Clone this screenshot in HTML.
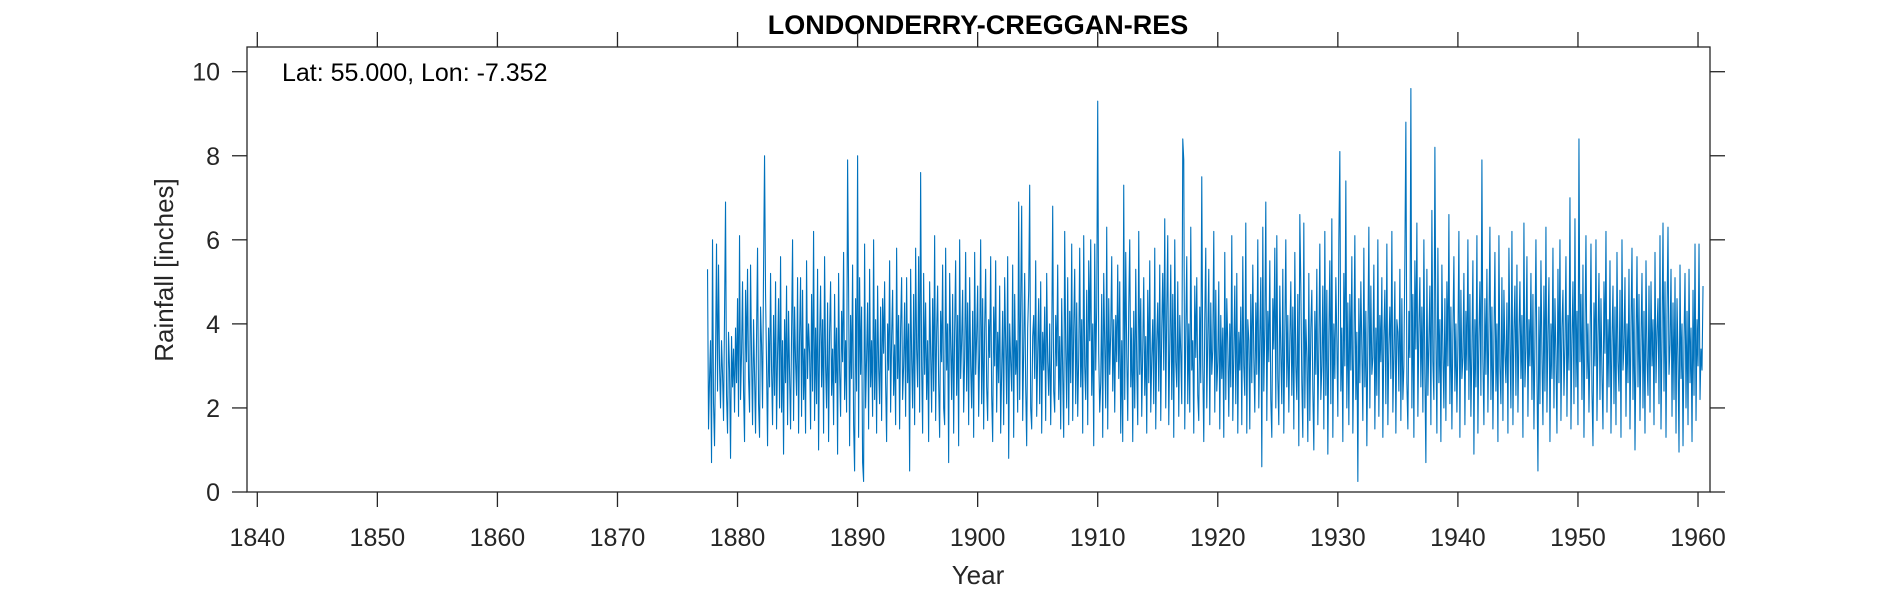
<!DOCTYPE html>
<html><head><meta charset="utf-8"><style>
body{margin:0;background:#fff;}
svg text{font-family:"Liberation Sans",Arial,sans-serif;fill:#262626;}
</style></head><body>
<svg id="chart" width="1890" height="591" viewBox="0 0 1890 591" xmlns="http://www.w3.org/2000/svg">
<text x="978" y="34" text-anchor="middle" font-size="27" font-weight="bold" style="fill:#000">LONDONDERRY-CREGGAN-RES</text>
<g id="axes"></g>
<text x="282" y="81" font-size="25" style="fill:#000">Lat: 55.000, Lon: -7.352</text>
<text x="978" y="584" text-anchor="middle" font-size="26">Year</text>
<text transform="translate(173,270) rotate(-90)" text-anchor="middle" font-size="26">Rainfall [inches]</text>
</svg>
<script>
const startYear = 1877.5;
const xTicks = [1840,1850,1860,1870,1880,1890,1900,1910,1920,1930,1940,1950,1960];
const yTicks = [0,2,4,6,8,10];
const rain = [
/*1877*/5.3,1.5,2.7,3.6,0.7,6.0,
/*1878*/2.1,1.1,3.2,5.9,2.4,5.4,3.0,2.0,3.6,2.8,1.7,4.2,
/*1879*/6.9,2.3,1.4,3.8,2.9,0.8,3.7,2.5,3.4,1.9,3.9,2.6,
/*1880*/4.6,1.8,6.1,2.2,3.3,5.0,2.4,1.2,4.8,3.1,5.3,2.7,
/*1881*/1.9,5.4,3.2,1.6,4.1,2.8,1.4,3.7,5.8,2.1,1.3,4.4,
/*1882*/3.5,2.0,5.3,8.0,4.7,3.0,1.1,3.9,2.5,5.2,2.9,1.6,
/*1883*/4.2,2.3,5.0,1.5,3.3,4.6,2.0,5.6,1.9,3.6,0.9,4.1,
/*1884*/2.6,4.9,1.6,4.3,2.8,1.5,3.8,6.0,1.7,4.4,3.1,2.3,
/*1885*/5.1,1.4,3.7,5.1,1.8,4.8,2.2,3.4,1.4,5.5,2.7,4.0,
/*1886*/3.3,1.5,4.7,2.4,6.2,1.7,3.9,2.1,5.3,1.0,3.6,4.9,
/*1887*/2.5,4.1,1.4,5.6,3.0,2.0,4.5,1.2,3.8,5.0,2.3,3.4,
/*1888*/1.6,4.7,2.6,3.9,0.9,5.2,2.9,1.8,4.3,3.1,5.7,2.2,
/*1889*/3.6,1.9,7.9,4.8,1.1,4.2,2.7,5.4,1.6,0.5,4.6,2.4,
/*1890*/8.0,1.3,5.1,2.8,4.4,0.7,0.25,5.9,2.0,3.2,4.5,1.5,
/*1891*/5.3,2.5,3.6,1.8,6.0,2.2,4.1,1.4,4.9,3.0,2.1,4.4,
/*1892*/1.7,4.6,3.3,5.0,2.6,1.2,4.0,2.9,5.5,1.9,3.7,4.8,
/*1893*/2.3,3.5,1.6,5.8,2.7,4.2,1.5,3.9,5.1,2.2,3.0,4.5,
/*1894*/1.8,5.1,2.6,4.0,0.5,5.3,3.2,2.0,4.7,1.6,5.8,3.4,
/*1895*/2.5,5.6,1.9,7.6,3.0,1.4,5.2,2.8,4.5,2.2,3.6,1.2,
/*1896*/5.0,3.3,1.9,4.6,2.4,6.1,1.7,3.8,4.9,2.6,1.3,4.3,
/*1897*/3.1,5.4,2.0,1.6,5.8,2.9,4.0,0.7,5.2,3.5,2.2,4.7,
/*1898*/1.4,3.9,5.5,2.3,4.2,1.1,6.0,2.7,3.6,4.8,1.9,3.2,
/*1899*/5.7,2.4,4.5,1.6,5.1,3.0,2.0,4.3,1.3,5.7,2.8,3.7,
/*1900*/4.9,1.8,3.4,6.0,2.1,4.6,1.5,3.9,5.3,2.5,1.7,4.1,
/*1901*/3.2,5.6,2.3,1.2,4.4,3.0,5.5,1.9,3.8,2.6,4.9,1.4,
/*1902*/2.9,4.3,1.6,5.1,3.5,2.1,5.6,0.8,4.0,3.1,2.4,5.4,
/*1903*/1.3,4.7,2.8,3.6,1.9,6.9,2.2,4.5,6.8,1.7,3.4,5.2,
/*1904*/2.5,1.1,3.9,4.8,7.3,2.0,1.5,3.7,4.2,2.7,5.5,1.8,
/*1905*/3.3,4.6,2.1,5.0,1.4,3.8,2.9,4.4,1.7,5.2,3.1,2.3,
/*1906*/4.0,1.6,3.5,6.8,2.4,1.9,4.2,3.0,5.4,2.2,3.7,1.5,
/*1907*/4.6,2.8,1.3,6.2,3.4,2.0,5.1,1.6,4.3,2.6,5.9,1.7,
/*1908*/3.9,5.3,2.1,4.5,1.8,3.2,5.8,2.5,4.1,1.4,6.1,3.0,
/*1909*/2.2,4.8,1.6,5.5,3.6,6.0,2.3,4.0,1.1,5.9,2.9,4.4,
/*1910*/9.3,3.3,1.9,2.6,4.7,1.3,5.2,3.5,2.0,6.3,1.5,4.6,
/*1911*/2.8,3.8,5.6,2.4,4.1,1.9,4.2,3.1,5.4,2.7,5.0,1.4,
/*1912*/3.6,1.2,7.3,2.2,5.7,3.3,1.7,4.4,6.0,2.5,3.9,1.2,
/*1913*/4.3,2.0,5.3,3.0,1.6,6.2,2.8,4.6,1.8,3.4,5.1,2.3,
/*1914*/3.7,1.4,4.8,2.6,5.5,1.9,3.2,4.1,2.1,5.8,1.5,3.6,
/*1915*/4.5,2.4,5.4,1.7,3.9,5.2,2.9,6.5,2.0,4.3,6.1,1.6,
/*1916*/3.5,5.4,2.2,4.7,1.3,6.0,3.1,2.5,5.0,1.8,4.2,3.3,
/*1917*/2.1,8.4,7.9,1.5,3.8,5.6,2.1,4.0,1.9,6.3,2.9,3.6,
/*1918*/1.4,4.9,3.2,5.1,2.3,1.7,4.4,2.6,7.5,3.0,1.2,4.1,
/*1919*/5.8,2.0,3.7,5.3,1.6,4.5,2.8,3.4,6.2,1.9,4.8,2.4,
/*1920*/3.1,5.0,1.5,4.2,2.7,3.9,1.3,5.7,2.2,4.6,3.5,1.8,
/*1921*/4.0,2.5,6.1,1.7,3.3,4.9,2.1,5.2,1.4,3.8,2.9,4.4,
/*1922*/1.6,5.6,3.0,2.3,6.4,1.4,4.1,3.6,1.5,4.7,2.6,5.4,
/*1923*/3.2,1.9,4.5,2.8,6.0,2.0,3.7,5.1,0.6,6.3,2.4,3.9,
/*1924*/6.9,1.7,4.3,3.1,5.5,2.2,1.3,4.6,3.4,5.8,2.0,6.1,
/*1925*/2.7,1.6,4.9,3.3,2.1,5.3,1.4,3.8,6.0,2.5,4.2,1.9,
/*1926*/3.6,5.0,2.3,4.4,1.5,5.7,3.0,2.2,4.7,1.1,6.6,4.9,
/*1927*/2.6,1.3,6.4,2.0,4.1,3.2,1.2,5.2,1.7,3.9,4.8,2.4,
/*1928*/1.0,4.3,2.8,5.3,1.6,3.4,5.9,2.2,3.0,4.9,1.5,6.2,
/*1929*/2.3,4.8,0.9,3.7,5.5,2.1,6.5,1.3,4.0,2.7,5.1,3.6,
/*1930*/1.8,6.0,8.1,2.4,3.9,1.2,5.2,3.0,7.4,2.0,4.5,1.6,
/*1931*/4.7,2.9,5.6,1.4,3.3,6.1,2.2,3.8,0.25,4.6,2.6,5.0,
/*1932*/3.4,1.7,5.8,2.5,4.3,1.1,3.6,6.3,2.0,4.9,2.8,3.2,
/*1933*/5.4,1.5,3.9,2.3,6.0,1.8,4.2,3.1,5.1,1.3,3.7,4.8,
/*1934*/2.1,5.9,1.6,3.5,4.4,2.7,6.2,1.9,3.3,5.0,1.4,4.1,
/*1935*/3.8,2.4,5.3,1.7,4.6,2.2,3.0,5.6,8.8,2.6,1.5,4.3,
/*1936*/3.2,9.6,2.0,4.7,1.3,5.5,3.4,6.4,1.8,3.9,5.1,2.5,
/*1937*/4.4,1.9,6.0,2.8,0.7,5.3,2.3,3.6,4.9,1.6,6.7,3.1,
/*1938*/2.2,8.2,3.7,1.4,5.8,2.6,4.1,1.2,5.4,3.3,2.0,4.6,
/*1939*/1.7,5.0,3.0,6.6,2.1,4.4,1.5,3.8,5.6,2.4,4.0,1.9,
/*1940*/3.5,6.2,1.3,4.8,2.7,3.2,5.2,1.6,4.3,2.9,6.0,2.2,
/*1941*/4.7,1.8,3.4,5.5,0.9,4.1,2.5,6.1,1.4,3.7,5.0,2.3,
/*1942*/7.9,3.1,1.6,4.6,2.8,5.3,1.9,3.9,6.3,2.2,4.4,1.5,
/*1943*/3.6,5.7,2.4,4.0,1.2,6.1,3.0,2.1,5.1,1.7,4.8,3.3,
/*1944*/2.6,4.5,1.4,5.8,3.5,2.0,6.2,1.6,3.8,4.9,2.3,5.4,
/*1945*/1.9,3.7,5.0,2.7,4.2,1.3,6.4,2.5,3.4,5.6,1.8,4.1,
/*1946*/3.0,5.2,2.2,4.7,1.5,3.6,6.0,2.8,0.5,4.4,2.1,5.5,
/*1947*/3.3,1.6,4.9,2.4,6.3,1.9,3.8,5.1,1.2,4.0,2.7,5.8,
/*1948*/2.0,4.6,3.2,1.4,5.3,2.6,6.0,1.7,3.9,4.8,2.3,3.5,
/*1949*/5.6,1.8,4.2,2.9,7.0,1.5,3.6,5.0,2.1,6.5,2.5,4.3,
/*1950*/1.6,8.4,3.1,4.7,2.2,5.4,1.3,3.8,6.1,2.7,4.0,1.9,
/*1951*/3.4,5.9,2.4,1.1,4.5,3.0,6.0,1.7,3.7,5.2,2.2,4.6,
/*1952*/2.8,1.5,5.0,3.3,6.2,1.9,4.1,2.5,5.5,1.4,3.6,4.9,
/*1953*/2.1,4.4,1.6,5.7,3.1,2.4,4.8,1.3,6.0,2.9,3.5,5.1,
/*1954*/1.8,4.0,2.6,5.3,1.5,3.9,5.8,2.2,4.6,1.0,3.4,5.6,
/*1955*/2.5,4.7,1.7,3.6,5.2,2.0,4.3,1.4,5.5,3.2,2.3,4.9,
/*1956*/1.9,5.0,3.0,4.1,1.6,5.7,2.6,3.8,4.6,2.1,6.1,1.5,
/*1957*/3.7,6.4,2.4,5.0,1.3,4.2,6.3,2.8,3.5,5.3,1.8,4.5,
/*1958*/2.2,5.1,1.4,4.6,3.2,0.95,5.4,2.7,4.0,1.1,3.6,5.2,
/*1959*/2.0,4.3,1.6,5.3,2.6,3.9,1.2,4.8,2.3,5.9,1.7,4.1,
/*1960*/3.0,5.9,2.2,3.4,2.9,4.9
];
const NS='http://www.w3.org/2000/svg';
const axes=document.getElementById('axes');
const L=247,R=1710,T=47,B=492;
const xScale=y=>257.3+(y-1840)*12.006;
const yScale=v=>492-v*42.03;
function mk(tag,attrs){const e=document.createElementNS(NS,tag);for(const k in attrs)e.setAttribute(k,attrs[k]);return e;}
const frame=mk('rect',{x:L,y:T,width:R-L,height:B-T,fill:'none',stroke:'#262626','stroke-width':1.3});


axes.appendChild(frame);
xTicks.forEach(t=>{
  const x=xScale(t);
  const tb=mk('line',{x1:x,y1:B,x2:x,y2:B+15,stroke:'#262626','stroke-width':1.3});
  
  
  axes.appendChild(tb);
  const tt=mk('line',{x1:x,y1:T,x2:x,y2:T-15,stroke:'#262626','stroke-width':1.3});
  
  
  axes.appendChild(tt);
  const lb=mk('text',{x:x,y:546,'text-anchor':'middle','font-size':25});
  
  
  lb.textContent=t;axes.appendChild(lb);
});
yTicks.forEach(t=>{
  const y=yScale(t);
  const tl=mk('line',{x1:L-15,y1:y,x2:L,y2:y,stroke:'#262626','stroke-width':1.3});
  
  
  axes.appendChild(tl);
  const tr=mk('line',{x1:R,y1:y,x2:R+15,y2:y,stroke:'#262626','stroke-width':1.3});
  
  
  axes.appendChild(tr);
  const lb=mk('text',{x:220,y:y+9,'text-anchor':'end','font-size':25});
  
  
  lb.textContent=t;axes.appendChild(lb);
});
const pts=rain.map((v,i)=>xScale(startYear+i/12).toFixed(2)+','+yScale(v).toFixed(2)).join(' ');
const line=mk('polyline',{points:pts,fill:'none',stroke:'#0072BD','stroke-width':1.1,'stroke-linejoin':'round'});


axes.appendChild(line);
</script>
</body></html>
